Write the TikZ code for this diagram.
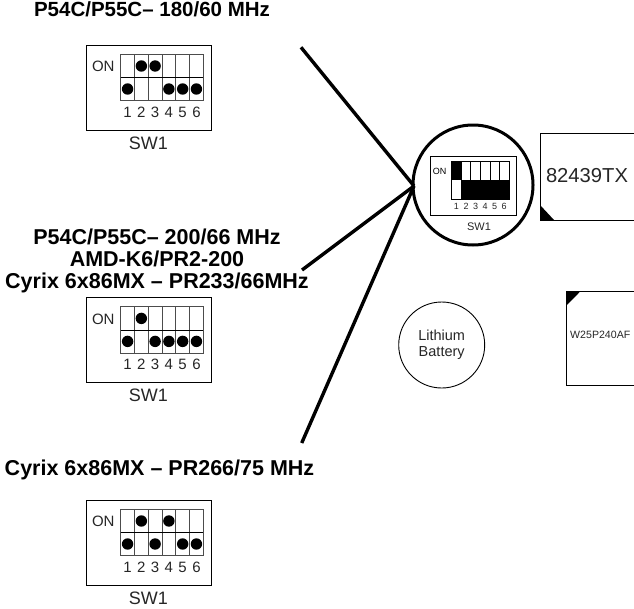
\documentclass[tikz,border=0pt]{standalone}
\usepackage{fontspec}
\setmainfont{Liberation Sans}
\begin{document}
\begin{tikzpicture}[x=1pt,y=-1pt,
  heading/.style={font=\fontsize{21.5}{22}\selectfont\bfseries,align=center,inner sep=0pt,text=black},
  lbl/.style={font=\fontsize{15}{17}\selectfont,inner sep=0pt,text=black!85,anchor=base},
  swname/.style={font=\fontsize{18}{20}\selectfont,inner sep=0pt,text=black!85,anchor=base},
  digit/.style={font=\fontsize{15}{17}\selectfont,inner sep=0pt,text=black!85,anchor=base},
  swbox/.style={draw=black,line width=1pt},
  swgrid/.style={draw=black!70,line width=.8pt},
  swmid/.style={draw=black,line width=1.2pt},
  pin/.style={fill=black,draw=none},
  pointer/.style={draw=black,line width=3.4pt},
  ring/.style={draw=black,line width=3pt},
  chip/.style={draw=black,line width=1pt}]
\useasboundingbox (0,0) rectangle (634,608);
\newcommand{\dipsw}[8]{%
 \begin{scope}[yshift=-#1pt]
  \draw[swbox] (86.7,45) rectangle (211.3,130);
  \node[lbl] at (103.3,71.7) {ON};
  \draw[swgrid] (120.7,54.3) rectangle (203.3,100.7);
  \foreach \i in {1,...,5} \draw[swgrid] (120.7+13.77*\i,54.3) -- (120.7+13.77*\i,100.7);
  \draw[swmid] (120.7,77.7) -- (203.3,77.7);
  \foreach \i/\s in {1/#2,2/#3,3/#4,4/#5,5/#6,6/#7} {
    \pgfmathsetmacro{\cx}{120.7+13.77*(\i-.5)}
    \pgfmathsetmacro{\cy}{\s==1?66:89}
    \fill[pin] (\cx,\cy) circle (5.7);
    \node[digit] at (\cx,117.3) {\i};
  }
  \node[swname] at (148.3,149) {SW1};
 \end{scope}}
\dipsw{0}{0}{1}{1}{0}{0}{0}{}
\dipsw{252.4}{0}{1}{0}{0}{0}{0}{}
\dipsw{455}{0}{1}{0}{1}{0}{0}{}
\node[heading,font=\fontsize{20.5}{22}\selectfont\bfseries] (h1) at (152,9) {P54C/P55C-- 180/60 MHz};
\node[heading] (h2) at (157,260.5) {P54C/P55C-- 200/66 MHz\\AMD-K6/PR2-200\\Cyrix 6x86MX -- PR233/66MHz};
\node[heading] (h3) at (159.5,470) {Cyrix 6x86MX -- PR266/75 MHz};
\node[draw=none,circle,minimum size=120pt,inner sep=0pt] (lens) at (473,185) {};
\coordinate (p1) at (301,47.3);
\coordinate (p2) at (302,270);
\coordinate (p3) at (301.7,443);
\coordinate (hub) at (414,186);
\draw[pointer] (p1) -- (hub);
\draw[pointer] (p2) -- (hub);
\draw[pointer] (p3) -- (hub);
\draw[ring] (lens) circle (60);
\draw[swbox] (430,156) rectangle (516,215);
\node[font=\fontsize{9}{11}\selectfont,inner sep=0pt] at (439.5,171) {ON};
\draw[swgrid,draw=black] (451.7,161.3) rectangle (509,199.3);
\foreach \i in {1,...,5} \draw[swgrid,draw=black] (451.7+9.55*\i,161.3) -- (451.7+9.55*\i,199.3);
\fill[black] (451.7,161.3) rectangle (461.25,180.3);
\fill[black] (461.25,180.3) rectangle (509,199.3);
\foreach \i in {1,...,6} \node[font=\fontsize{9}{11}\selectfont,inner sep=0pt,text=black!85,anchor=base] at (451.7+9.55*\i-4.8,209.5) {\i};
\node[font=\fontsize{11}{12}\selectfont,inner sep=0pt,text=black!85] at (479,226.7) {SW1};
\draw[chip] (540.5,133.5) rectangle (640,220);
\fill[black] (540.5,220) -- (540.5,205.5) -- (554,220) -- cycle;
\node[font=\fontsize{20.2}{22}\selectfont,inner sep=0pt,text=black!85] (c1) at (587,175.7) {82439TX};
\draw[chip] (566,291.7) rectangle (640,385.7);
\fill[black] (566,291.7) -- (580,291.7) -- (566,306) -- cycle;
\node[font=\fontsize{10.6}{12}\selectfont,inner sep=0pt,anchor=west,text=black!85] (c2) at (570,334.5) {W25P240AF};
\node[draw=black,line width=.9pt,circle,minimum size=86pt,inner sep=0pt,font=\fontsize{14.5}{16}\selectfont,align=center,text=black!85] (bat) at (441.7,345) {Lithium\\Battery};
\end{tikzpicture}
\end{document}
